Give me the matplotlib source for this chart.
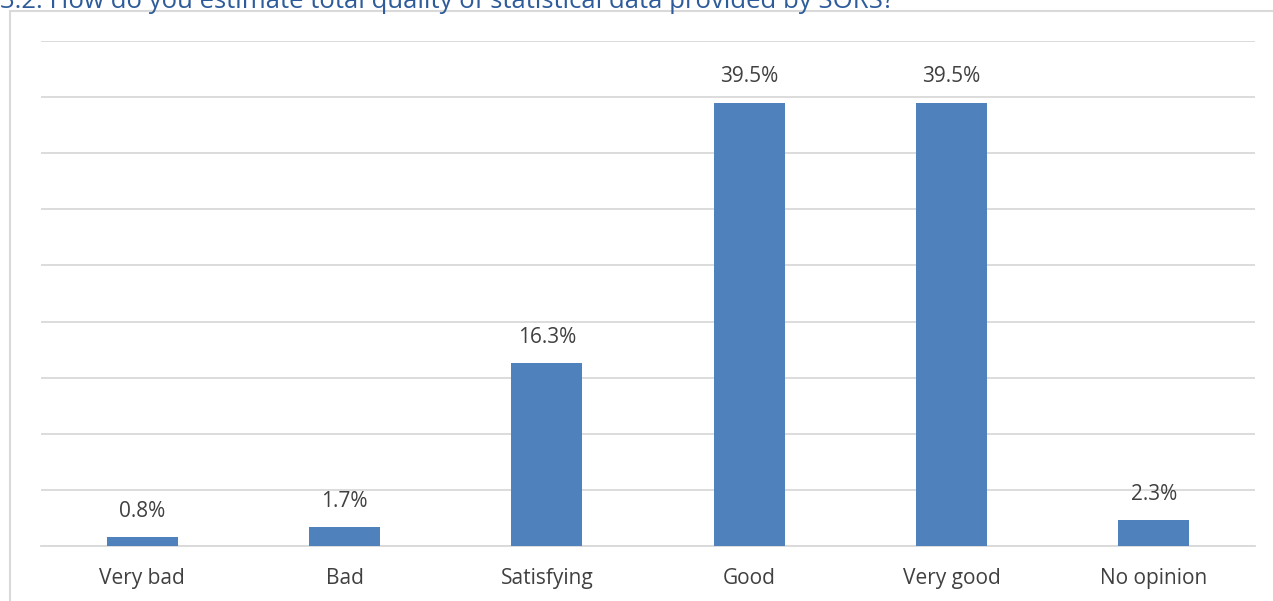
import numpy as np
import matplotlib.pyplot as plt
from matplotlib.patches import Rectangle

categories = ['Very bad', 'Bad', 'Satisfying', 'Good', 'Very good', 'No opinion']
shares = [0.8, 1.7, 16.3, 39.5, 39.5, 2.3]
title = '3.2. How do you estimate total quality of statistical data provided by SORS?'

plt.rcParams['font.family'] = ['Open Sans', 'DejaVu Sans']

fig = plt.figure(figsize=(12.73, 6.01), dpi=100)
ax = fig.add_axes([41/1273, 1 - 546/601, (1255 - 41)/1273, (546 - 41)/601])

x = np.arange(len(categories))
bars = ax.bar(x, shares, width=0.35, color='#4F81BD', zorder=3)

for b, v in zip(bars, shares):
    ax.annotate(f'{v:.1f}%', (b.get_x() + b.get_width()/2, v),
                xytext=(0, 11), textcoords='offset points',
                ha='center', va='bottom', fontsize=15, color='#404040')

ax.set_xlim(-0.5, len(categories) - 0.5)
ax.set_ylim(0, 45)
ax.set_yticks(np.arange(0, 46, 5))
ax.set_yticklabels([])
ax.tick_params(axis='y', length=0)
ax.set_xticks(x)
ax.set_xticklabels(categories, fontsize=15, color='#404040')
ax.tick_params(axis='x', length=0, pad=16)
ax.grid(axis='y', color='#D9D9D9', linewidth=1.3, zorder=0)
for s in ['left', 'right', 'top']:
    ax.spines[s].set_visible(False)
ax.spines['bottom'].set_color('#D9D9D9')
ax.spines['bottom'].set_linewidth(1.3)

# outer chart frame, clipped by the figure edge
fig.patches.append(Rectangle((9.5/1273, -0.05), 1.1, 1 - 11/601 + 0.05,
                             transform=fig.transFigure, fill=False,
                             edgecolor='#D9D9D9', linewidth=1.5))

fig.text(0.0, 1.0 - 1/601, title, ha='left', va='center',
         fontsize=18.5, color='#2E5C9A')

plt.savefig('out.png', dpi=100)
